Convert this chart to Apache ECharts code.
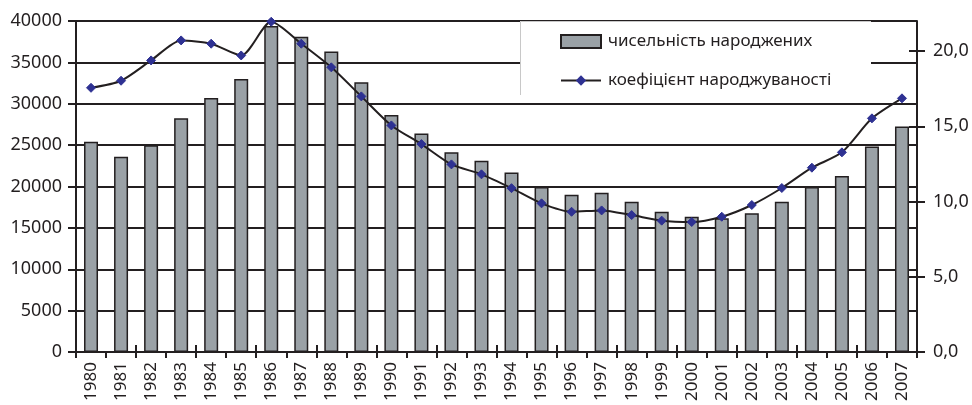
<!DOCTYPE html>
<html>
<head>
<meta charset="utf-8">
<script src="https://cdn.jsdelivr.net/npm/echarts@6/dist/echarts.min.js"></script>
<style>html,body{margin:0;padding:0;background:#fff}#c{width:972px;height:405px}</style>
</head>
<body>
<div id="c"></div>
<script>
const years = ['1980','1981','1982','1983','1984','1985','1986','1987','1988','1989','1990','1991','1992','1993','1994','1995','1996','1997','1998','1999','2000','2001','2002','2003','2004','2005','2006','2007'];
const births = [25400,23600,25000,28250,30700,33000,39400,38100,36300,32600,28650,26400,24150,23100,21700,19950,19000,19250,18170,16960,16350,16150,16760,18170,19950,21270,24820,27250];
const birthRate = [17.56,18.03,19.38,20.71,20.49,19.71,21.95,20.49,18.92,16.99,15.06,13.82,12.47,11.81,10.89,9.88,9.32,9.41,9.10,8.73,8.64,8.99,9.77,10.90,12.25,13.27,15.53,16.86];
const rightTicks = [0,5,10,15,20];
const seriesNames = ['чисельність народжених','коефіцієнт народжуваності'];

const FONT = 'Noto Sans';
const DARK = '#231f20';
const chart = echarts.init(document.getElementById('c'), null, {renderer:'canvas'});
const rfmt = v => v.toFixed(1).replace('.', ',');
chart.setOption({
  animation:false,
  textStyle:{fontFamily:FONT},
  grid:{left:76,right:55,top:21,bottom:53},
  legend:{
    orient:'vertical', left:560, top:33, padding:0,
    itemWidth:40, itemHeight:13, itemGap:22,
    textStyle:{fontFamily:FONT,fontSize:17,color:DARK,padding:[0,0,0,2]},
    data:[{name:seriesNames[0],icon:'rect'},{name:seriesNames[1]}]
  },
  graphic:[
    {type:'rect', z:1, shape:{x:520,y:21,width:351,height:74}, style:{fill:'#fff',stroke:null}},
    {type:'polyline', z:1, shape:{points:[[520.5,95],[520.5,21.5],[871,21.5]]}, style:{stroke:'#c8c8c8',lineWidth:1,fill:null}}
  ],
  xAxis:[{
    type:'category', data:years,
    axisLine:{lineStyle:{color:DARK,width:2}},
    axisTick:{show:true,length:6,lineStyle:{color:DARK,width:2}},
    axisLabel:{rotate:90,margin:10,fontSize:17,color:DARK,fontFamily:FONT,interval:0}
  },{
    type:'category', data:years, position:'bottom',
    axisLine:{show:false},
    axisTick:{show:true,inside:true,length:7,lineStyle:{color:DARK,width:2}},
    axisLabel:{show:false}
  }],
  yAxis:[{
    type:'value', min:0, max:40000, interval:5000,
    axisLine:{show:true,lineStyle:{color:DARK,width:2}},
    axisTick:{show:true,length:8,lineStyle:{color:DARK,width:2}},
    axisLabel:{margin:14,fontSize:18,color:DARK,fontFamily:FONT,formatter:v => String(v)},
    splitLine:{show:true,lineStyle:{color:DARK,width:2}}
  },{
    type:'value', min:0, max:22, position:'right',
    axisLine:{show:true,lineStyle:{color:DARK,width:2}},
    axisTick:{show:true,length:8,customValues:rightTicks,lineStyle:{color:DARK,width:2}},
    axisLabel:{margin:16,fontSize:18,color:DARK,fontFamily:FONT,customValues:rightTicks,formatter:rfmt},
    splitLine:{show:false}
  },{
    type:'value', min:0, max:22, position:'right',
    axisLine:{show:false},
    axisTick:{show:true,inside:true,length:8,customValues:rightTicks,lineStyle:{color:DARK,width:2}},
    axisLabel:{show:false},
    splitLine:{show:false}
  }],
  series:[{
    name:seriesNames[0], type:'bar', data:births, xAxisIndex:0, yAxisIndex:0,
    barWidth:14,
    itemStyle:{color:'#9aa1a6',borderColor:DARK,borderWidth:1.5}
  },{
    name:seriesNames[1], type:'line', data:birthRate, xAxisIndex:0, yAxisIndex:1,
    smooth:0.25, symbol:'diamond', symbolSize:9,
    lineStyle:{color:DARK,width:2},
    itemStyle:{color:'#2e3192',borderColor:'#2e3192'},
    z:3
  }]
});
</script>
</body>
</html>
